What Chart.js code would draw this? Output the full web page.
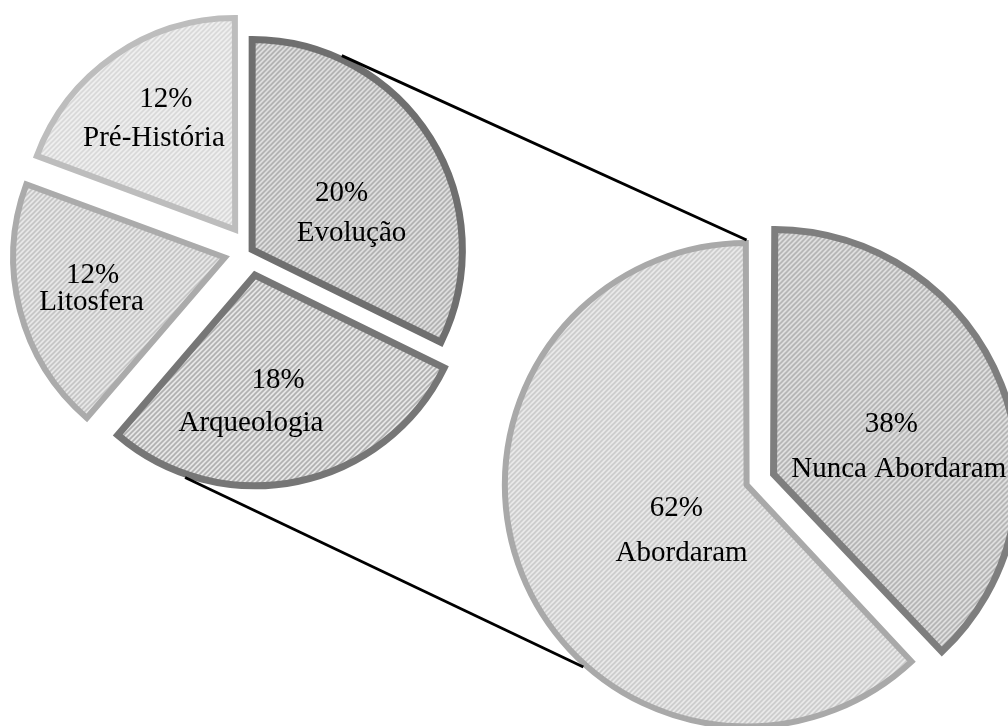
<!DOCTYPE html>
<html><head><meta charset="utf-8">
<script src="https://cdn.jsdelivr.net/npm/chart.js@4.4.0/dist/chart.umd.min.js"></script>
<style>
html,body{margin:0;padding:0;background:#fff;}
#wrap{position:relative;width:1008px;height:726px;overflow:hidden;background:#fff;}
canvas{position:absolute;left:0;top:0;}
</style></head><body>
<div id="wrap"><canvas id="c1" width="1008" height="726"></canvas><canvas id="c2" width="1008" height="726"></canvas></div>
<script>
// ---- data ----
const topicCategories = ['Evolução', 'Arqueologia', 'Litosfera', 'Pré-História'];
const topicValues = [20, 18, 12, 12];
const approachCategories = ['Nunca Abordaram', 'Abordaram'];
const approachValues = [38, 62];

// ---- styles ----
const W = 1008, H = 726;
const FONT = '29px "Liberation Serif", "Times New Roman", serif';
const OFFSET_DIV = 4; // Chart.js v4 arc translates by offset/4

function hatch(ctx, bg, fg, s, lw) {
  const c = document.createElement('canvas');
  c.width = s; c.height = s;
  const g = c.getContext('2d');
  g.fillStyle = bg; g.fillRect(0, 0, s, s);
  g.strokeStyle = fg; g.lineWidth = lw; g.lineCap = 'square';
  g.beginPath();
  g.moveTo(-1, s + 1); g.lineTo(s + 1, -1);
  g.moveTo(-1, 1); g.lineTo(1, -1);
  g.moveTo(s - 1, s + 1); g.lineTo(s + 1, s - 1);
  g.stroke();
  return ctx.createPattern(c, 'repeat');
}

// geometry of an arc as Chart.js draws it (translated by offset, radius grown by offset*fix)
function arcGeom(arc) {
  const p = arc.getProps(['x', 'y', 'startAngle', 'endAngle', 'outerRadius']);
  const off = (arc.options.offset || 0) / OFFSET_DIV;
  const mid = (p.startAngle + p.endAngle) / 2;
  const circ = p.endAngle - p.startAngle;
  const fix = 1 - Math.sin(Math.min(Math.PI, circ));
  return { cx: p.x + Math.cos(mid) * off, cy: p.y + Math.sin(mid) * off,
           a0: p.startAngle, a1: p.endAngle, r: p.outerRadius + off * fix,
           bw: arc.options.borderWidth || 0 };
}
function pointOnArc(arc, frac) {
  const g = arcGeom(arc);
  const a = g.a0 + (g.a1 - g.a0) * frac;
  const r = g.r + g.bw / 2;
  return [g.cx + Math.cos(a) * r, g.cy + Math.sin(a) * r];
}

const labelPlugin = {
  id: 'sliceLabels',
  afterDatasetsDraw(chart, args, opts) {
    const ctx = chart.ctx;
    const meta = chart.getDatasetMeta(0);
    const labels = chart.data.labels;
    const vals = chart.data.datasets[0].data;
    ctx.save();
    ctx.font = FONT;
    ctx.fillStyle = '#000';
    ctx.textAlign = 'center';
    ctx.textBaseline = 'alphabetic';
    meta.data.forEach((arc, i) => {
      const g = arcGeom(arc);
      const mid = (g.a0 + g.a1) / 2 + opts.turn[i] * Math.PI / 180;
      const x = g.cx + Math.cos(mid) * g.r * opts.frac[i];
      const y = g.cy + Math.sin(mid) * g.r * opts.frac[i];
      const gap = opts.gap[i];
      ctx.fillText(vals[i] + '%', x + opts.shift[i], y - gap / 2);
      ctx.fillText(labels[i], x, y + gap / 2);
    });
    ctx.restore();
  }
};

const ctx1 = document.getElementById('c1').getContext('2d');
const ctx2 = document.getElementById('c2').getContext('2d');

const chart1 = new Chart(ctx1, {
  type: 'pie',
  data: {
    labels: topicCategories,
    datasets: [{
      data: topicValues,
      backgroundColor: [
        hatch(ctx1, '#e5e5e5', '#aaaaaa', 5, 1.6),
        hatch(ctx1, '#e7e7e7', '#afafaf', 5, 1.6),
        hatch(ctx1, '#ececec', '#bfbfbf', 5, 1.6),
        hatch(ctx1, '#f2f2f2', '#d5d5d5', 5, 1.6)
      ],
      borderColor: ['#6f6f6f', '#767676', '#ababab', '#bdbdbd'],
      borderWidth: [7, 7, 6, 6],
      borderAlign: 'center',
      borderJoinStyle: 'miter',
      offset: [10, 98, 104, 104]
    }]
  },
  options: {
    responsive: false, animation: false, radius: 210,
    layout: { padding: { left: 0, top: 0, right: W - 2 * 250, bottom: H - 2 * 251 } },
    plugins: {
      legend: { display: false }, tooltip: { enabled: false },
      sliceLabels: {
        frac: [0.492, 0.64, 0.657, 0.619],
        turn: [16, 13.3, -1.9, -3.5],
        gap: [40, 43, 27, 39],
        shift: [-10, 27, 1, 12]
      }
    }
  },
  plugins: [labelPlugin]
});

const connectorPlugin = {
  id: 'connectors',
  afterDatasetsDraw(chart, args, opts) {
    const ctx = chart.ctx;
    const m1 = chart1.getDatasetMeta(0).data;
    const m2 = chart.getDatasetMeta(0).data;
    ctx.save();
    ctx.strokeStyle = '#000';
    ctx.lineWidth = 2.8;
    opts.links.forEach(l => {
      const p = pointOnArc(m1[l.from], l.fromFrac);
      const q = pointOnArc(m2[l.to], l.toFrac);
      ctx.beginPath(); ctx.moveTo(p[0], p[1]); ctx.lineTo(q[0], q[1]); ctx.stroke();
    });
    ctx.restore();
  }
};

const chart2 = new Chart(ctx2, {
  type: 'pie',
  data: {
    labels: approachCategories,
    datasets: [{
      data: approachValues,
      backgroundColor: [
        hatch(ctx2, '#e5e5e5', '#adadad', 5, 1.6),
        hatch(ctx2, '#eeeeee', '#c6c6c6', 5, 1.6)
      ],
      borderColor: ['#7e7e7e', '#a9a9a9'],
      borderWidth: [7, 6],
      borderAlign: 'center',
      borderJoinStyle: 'miter',
      offset: [97, 19]
    }]
  },
  options: {
    responsive: false, animation: false, radius: 237,
    layout: { padding: { left: 2 * 751 - W, top: 2 * 483 - H, right: 0, bottom: 0 } },
    plugins: {
      legend: { display: false }, tooltip: { enabled: false },
      sliceLabels: {
        frac: [0.518, 0.35],
        turn: [12.8, -18.2],
        gap: [45, 45],
        shift: [-7.5, -5.3]
      },
      connectors: {
        links: [
          { from: 0, fromFrac: 0.2136, to: 1, toFrac: 1.0 },
          { from: 1, fromFrac: 0.793, to: 1, toFrac: 0.381 }
        ]
      }
    }
  },
  plugins: [labelPlugin, connectorPlugin]
});
</script>
</body></html>
